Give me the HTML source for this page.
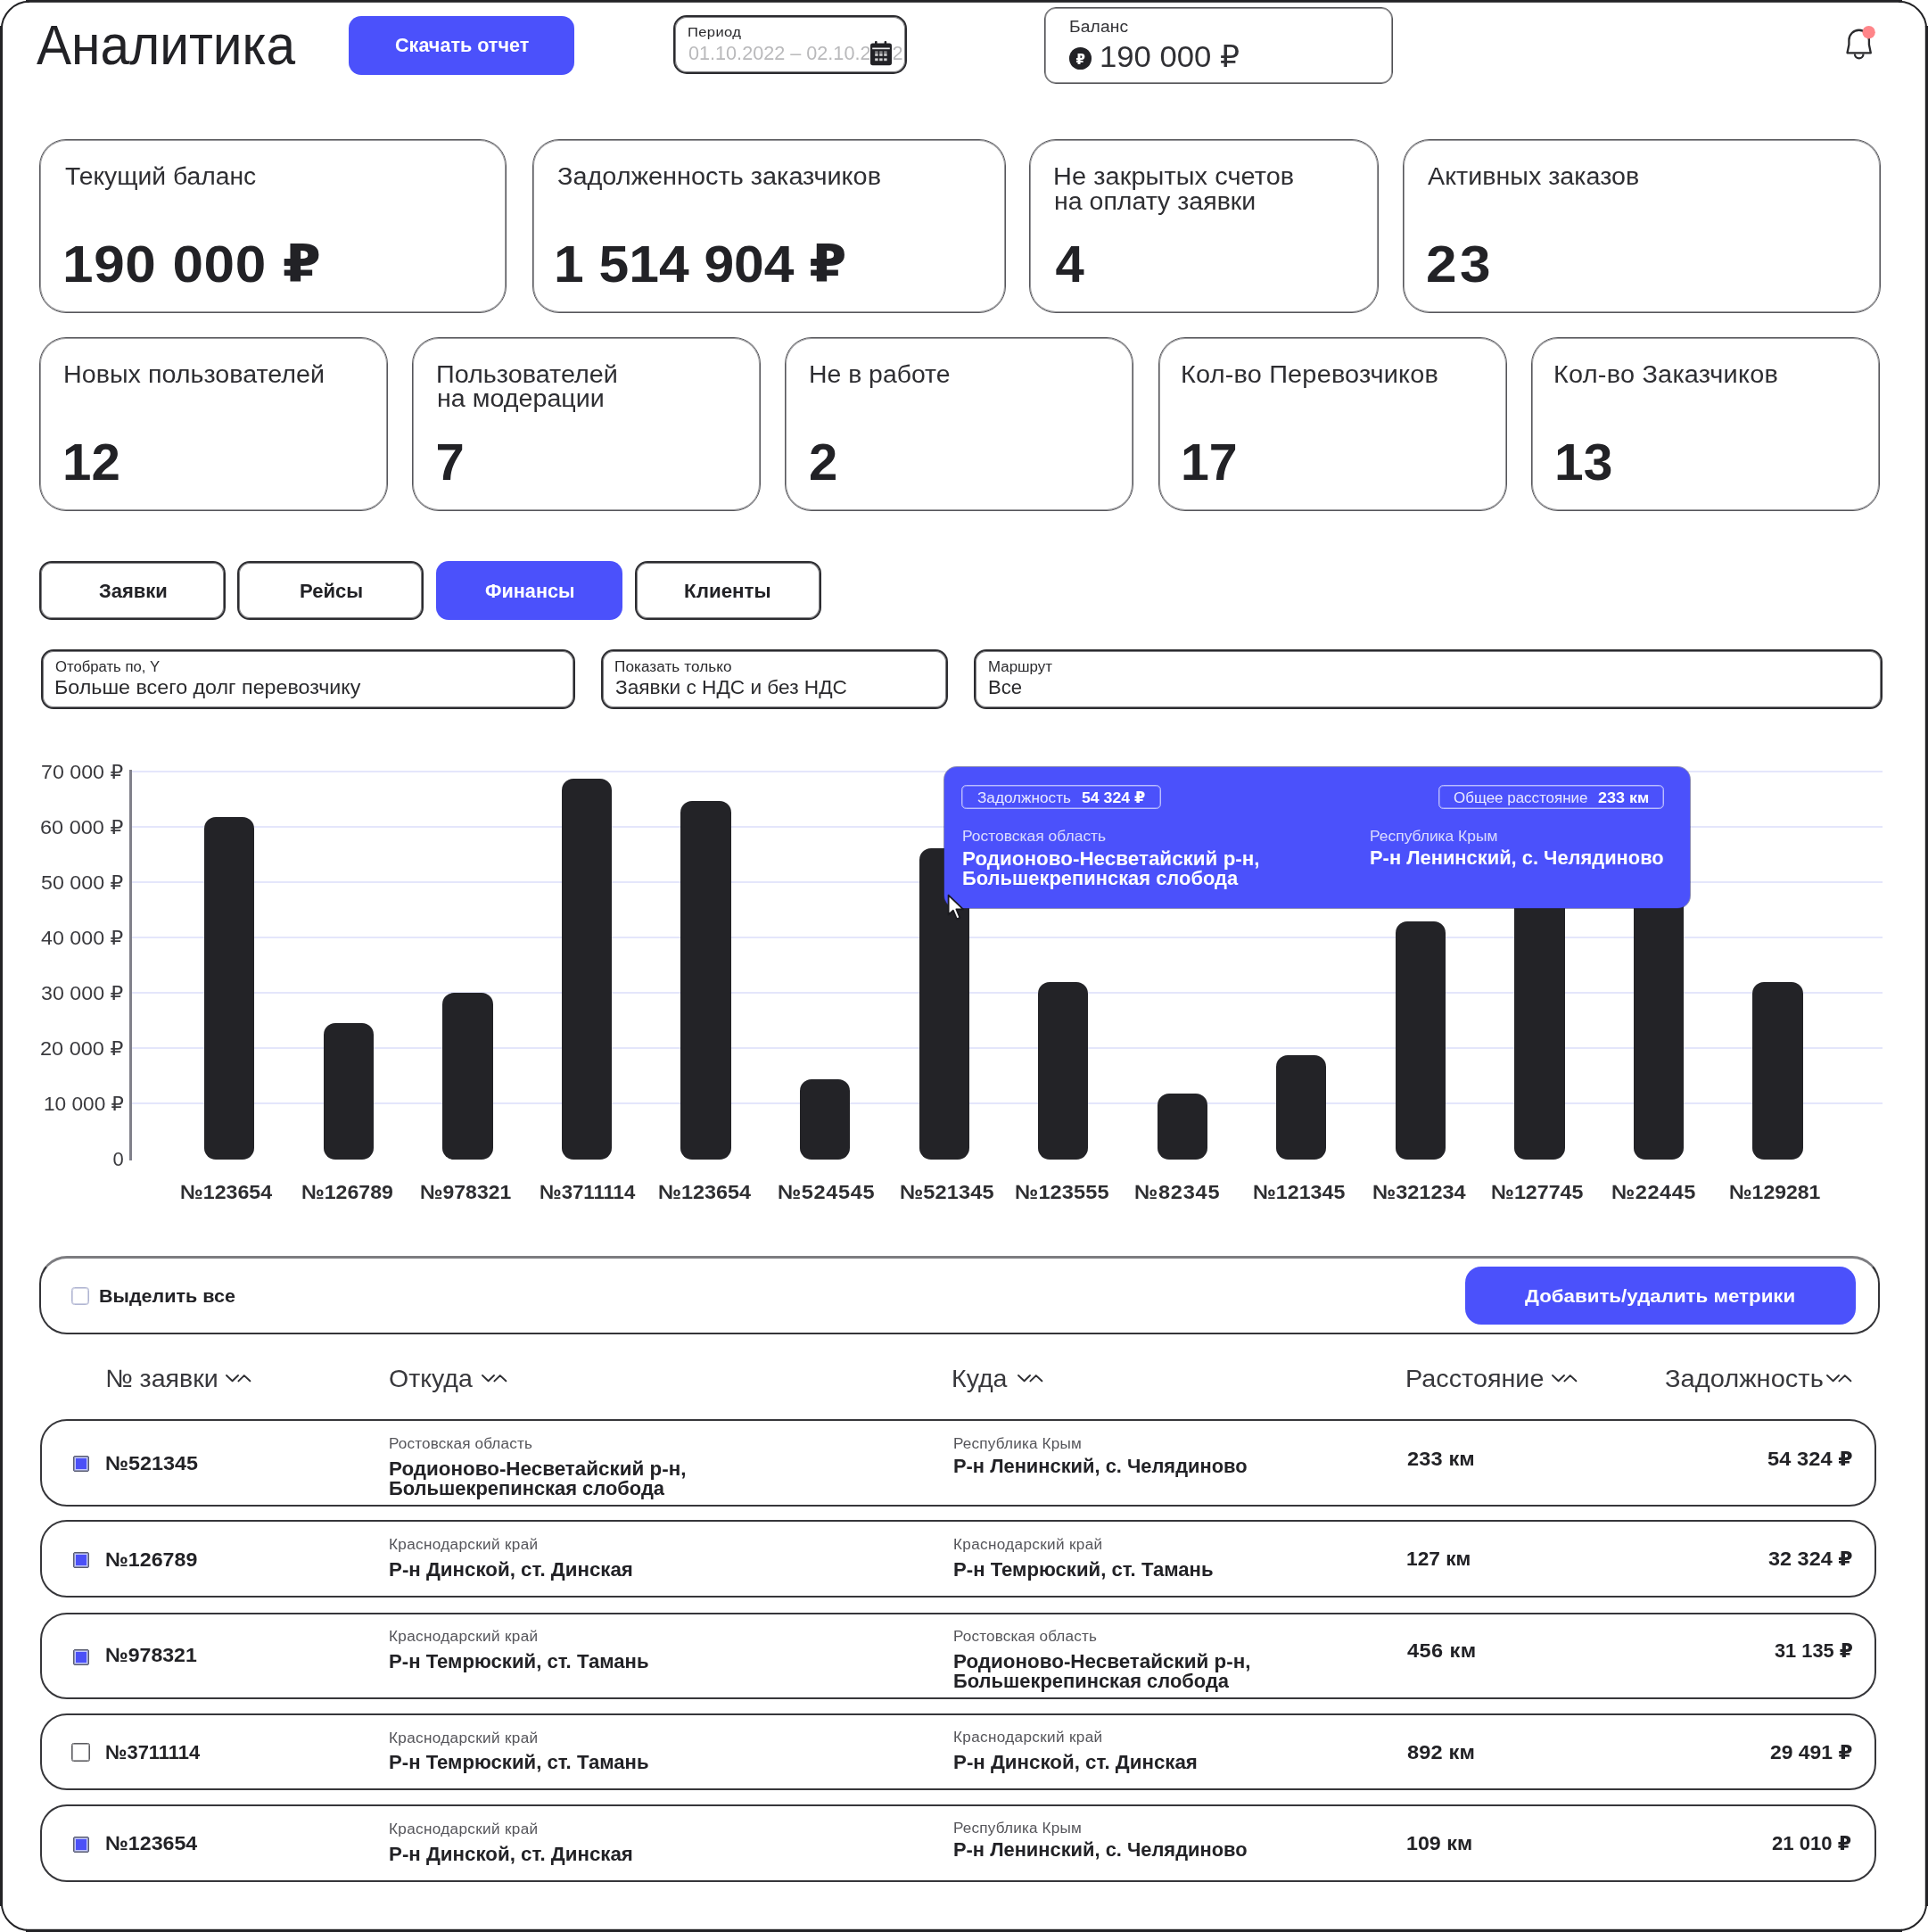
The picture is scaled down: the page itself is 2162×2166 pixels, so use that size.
<!DOCTYPE html><html lang="ru"><head><meta charset="utf-8"><title>Аналитика</title><style>
html,body{margin:0;padding:0;background:#fff}body{width:2162px;height:2166px;position:relative;overflow:hidden;font-family:"Liberation Sans","DejaVu Sans",sans-serif;color:#222226}
#app{position:absolute;left:0;top:0;width:100%;height:100%;will-change:transform}#app div{position:absolute;box-sizing:border-box}#app .t{white-space:nowrap;overflow:visible;transform-origin:0 0}#app svg{position:absolute;overflow:visible}
</style></head><body><div id="app">
<section class="frame">
<svg style="left:0;top:0" width="2162" height="2166" viewBox="0 0 2162 2166">
<g fill="#232326"><rect x="29" y="0" width="2104" height="2.8"/><rect x="29" y="2162.8" width="2104" height="3.2"/>
<rect x="0" y="29" width="3" height="2108"/><rect x="2158.8" y="29" width="3.2" height="2108"/></g>
<g fill="none" stroke="#232326" stroke-width="2">
<path d="M1.8 33 A31.2 31.2 0 0 1 33 1.8"/><path d="M2129 1.8 A31.2 31.2 0 0 1 2160.2 33"/>
<path d="M2160.2 2133 A31.2 31.2 0 0 1 2129 2164.2"/><path d="M33 2164.2 A31.2 31.2 0 0 1 1.8 2133"/></g></svg>
</section>
<header class="topbar">
<div class="t" style="left:41.00px;top:19px;height:63px;line-height:63px;font-size:63px;transform:scaleX(0.9303);">Аналитика</div>
<div style="left:391.3px;top:18.0px;width:252.9px;height:65.5px;background:#4b51fb;border-radius:14px"></div>
<div class="t" style="left:442.70px;top:41px;height:21.5px;line-height:21.5px;font-size:21.5px;font-weight:700;color:#fff;transform:scaleX(1.0037);">Скачать отчет</div>
<div class="t" style="left:770.73px;top:28px;height:15.5px;line-height:15.5px;font-size:15.5px;color:#2a2a2d;letter-spacing:0.327px;transform:scaleX(1.0700);">Период</div>
<div class="t" style="left:771.80px;top:49px;height:22px;line-height:22px;font-size:22px;color:#b9b9bb;transform:scaleX(0.9831);">01.10.2022 – 02.10.2022</div>
<div style="left:974.5px;top:44.0px;width:27.0px;height:31.0px;background:#fff"></div>
<svg style="left:976px;top:45.5px" width="24" height="27.5" viewBox="0 0 24 27.5">
<rect x="5" y="0" width="2.6" height="6" rx="1" fill="#222226"/><rect x="15.6" y="0" width="2.6" height="6" rx="1" fill="#222226"/>
<rect x="0" y="2.6" width="24" height="24.6" rx="2.6" fill="#222226"/>
<rect x="2.2" y="7.5" width="19.6" height="1.7" fill="#fff" opacity=".92"/>
<g fill="#fff" opacity=".45"><rect x="5.2" y="11.3" width="3.4" height="2.6"/><rect x="10.2" y="11.3" width="3.4" height="2.6"/><rect x="15.2" y="11.3" width="3.4" height="2.6"/></g>
<g fill="#fff" opacity=".8"><rect x="5.2" y="14.2" width="3.4" height="2.6"/><rect x="10.2" y="14.2" width="3.4" height="2.6"/><rect x="15.2" y="14.2" width="3.4" height="2.6"/>
<rect x="5.2" y="19.4" width="3.4" height="2.8"/><rect x="10.2" y="19.4" width="3.4" height="2.8"/><rect x="15.2" y="19.4" width="3.4" height="2.8"/></g>
</svg>
<div style="left:755.0px;top:17.0px;width:262.0px;height:66.4px;border:2px solid #2a2a2e;border-radius:15px;box-shadow:inset 0 0 0 1px rgba(42,42,46,0.60);"></div>
<div style="left:1171.3px;top:8.3px;width:390.7px;height:85.5px;border:1px solid #4e4e52;border-radius:13px;box-shadow:inset 0 0 0 1px rgba(78,78,82,0.60);"></div>
<div class="t" style="left:1198.83px;top:21px;height:18px;line-height:18px;font-size:18px;color:#333337;letter-spacing:0.113px;transform:scaleX(1.0700);">Баланс</div>
<div style="left:1199.2px;top:53.4px;width:24.6px;height:24.6px;background:#222226;border-radius:50%"></div>
<div class="t" style="left:1206.50px;top:59px;height:15px;line-height:15px;font-size:15px;font-weight:700;color:#fff;">₽</div>
<div class="t" style="left:1233.13px;top:47px;height:33.5px;line-height:33.5px;font-size:33.5px;color:#303034;transform:scaleX(1.0348);">190 000 ₽</div>
<svg style="left:0;top:0" width="2162" height="100" viewBox="0 0 2162 100">
<path d="M2071.5 59.3 L2073.4 50 L2073.4 45 A11.25 11.25 0 0 1 2095.9 45 L2095.9 50 L2097.8 59.3 Z" fill="none" stroke="#2a2a2d" stroke-width="2.3" stroke-linejoin="round"/>
<path d="M2079.9 60.6 A4.8 4.8 0 0 0 2089.5 60.6" fill="none" stroke="#2a2a2d" stroke-width="2.2"/>
<circle cx="2095.6" cy="36.2" r="7.2" fill="#ff8589"/>
</svg>
</header>
<section class="stats">
<div style="left:44.4px;top:155.9px;width:523.9px;height:195.1px;border:1px solid #55555a;border-radius:30px;box-shadow:inset 0 0 0 1px rgba(85,85,90,0.60);"></div>
<div class="t" style="left:72.80px;top:185px;height:27px;line-height:27px;font-size:27px;color:#2e2e32;transform:scaleX(1.0474);">Текущий баланс</div>
<div class="t" style="left:70.19px;top:267px;height:58px;line-height:58px;font-size:58px;font-weight:700;letter-spacing:0.616px;transform:scaleX(1.0700);">190 000 ₽</div>
<div style="left:596.5px;top:155.9px;width:531.4px;height:195.1px;border:1px solid #55555a;border-radius:30px;box-shadow:inset 0 0 0 1px rgba(85,85,90,0.60);"></div>
<div class="t" style="left:624.90px;top:185px;height:27px;line-height:27px;font-size:27px;color:#2e2e32;transform:scaleX(1.0700);">Задолженность заказчиков</div>
<div class="t" style="left:621.07px;top:267px;height:58px;line-height:58px;font-size:58px;font-weight:700;transform:scaleX(1.0445);">1 514 904 ₽</div>
<div style="left:1154.3px;top:155.9px;width:391.7px;height:195.1px;border:1px solid #55555a;border-radius:30px;box-shadow:inset 0 0 0 1px rgba(85,85,90,0.60);"></div>
<div class="t" style="left:1180.56px;top:185px;height:27px;line-height:27px;font-size:27px;color:#2e2e32;letter-spacing:0.077px;transform:scaleX(1.0700);">Не закрытых счетов</div>
<div class="t" style="left:1181.64px;top:213px;height:27px;line-height:27px;font-size:27px;color:#2e2e32;transform:scaleX(1.0562);">на оплату заявки</div>
<div class="t" style="left:1183.60px;top:267px;height:58px;line-height:58px;font-size:58px;font-weight:700;">4</div>
<div style="left:1572.5px;top:155.9px;width:536.0px;height:195.1px;border:1px solid #55555a;border-radius:30px;box-shadow:inset 0 0 0 1px rgba(85,85,90,0.60);"></div>
<div class="t" style="left:1600.90px;top:185px;height:27px;line-height:27px;font-size:27px;color:#2e2e32;transform:scaleX(1.0626);">Активных заказов</div>
<div class="t" style="left:1598.66px;top:267px;height:58px;line-height:58px;font-size:58px;font-weight:700;letter-spacing:3.229px;transform:scaleX(1.0700);">23</div>
<div style="left:44.4px;top:377.7px;width:390.6px;height:194.9px;border:1px solid #55555a;border-radius:30px;box-shadow:inset 0 0 0 1px rgba(85,85,90,0.60);"></div>
<div class="t" style="left:70.67px;top:407px;height:27px;line-height:27px;font-size:27px;color:#2e2e32;transform:scaleX(1.0629);">Новых пользователей</div>
<div class="t" style="left:70.19px;top:489px;height:58px;line-height:58px;font-size:58px;font-weight:700;transform:scaleX(1.0041);">12</div>
<div style="left:462.4px;top:377.7px;width:390.9px;height:194.9px;border:1px solid #55555a;border-radius:30px;box-shadow:inset 0 0 0 1px rgba(85,85,90,0.60);"></div>
<div class="t" style="left:488.67px;top:407px;height:27px;line-height:27px;font-size:27px;color:#2e2e32;transform:scaleX(1.0661);">Пользователей</div>
<div class="t" style="left:489.74px;top:434px;height:27px;line-height:27px;font-size:27px;color:#2e2e32;transform:scaleX(1.0620);">на модерации</div>
<div class="t" style="left:488.60px;top:489px;height:58px;line-height:58px;font-size:58px;font-weight:700;">7</div>
<div style="left:880.3px;top:377.7px;width:390.7px;height:194.9px;border:1px solid #55555a;border-radius:30px;box-shadow:inset 0 0 0 1px rgba(85,85,90,0.60);"></div>
<div class="t" style="left:906.60px;top:407px;height:27px;line-height:27px;font-size:27px;color:#2e2e32;transform:scaleX(1.0511);">Не в работе</div>
<div class="t" style="left:907.10px;top:489px;height:58px;line-height:58px;font-size:58px;font-weight:700;">2</div>
<div style="left:1299.0px;top:377.7px;width:391.2px;height:194.9px;border:1px solid #55555a;border-radius:30px;box-shadow:inset 0 0 0 1px rgba(85,85,90,0.60);"></div>
<div class="t" style="left:1324.36px;top:407px;height:27px;line-height:27px;font-size:27px;color:#2e2e32;letter-spacing:0.175px;transform:scaleX(1.0700);">Кол-во Перевозчиков</div>
<div class="t" style="left:1323.64px;top:489px;height:58px;line-height:58px;font-size:58px;font-weight:700;transform:scaleX(0.9872);">17</div>
<div style="left:1716.7px;top:377.7px;width:391.8px;height:194.9px;border:1px solid #55555a;border-radius:30px;box-shadow:inset 0 0 0 1px rgba(85,85,90,0.60);"></div>
<div class="t" style="left:1742.06px;top:407px;height:27px;line-height:27px;font-size:27px;color:#2e2e32;letter-spacing:0.208px;transform:scaleX(1.0700);">Кол-во Заказчиков</div>
<div class="t" style="left:1742.86px;top:489px;height:58px;line-height:58px;font-size:58px;font-weight:700;transform:scaleX(1.0123);">13</div>
</section>
<nav class="tabs">
<div style="left:44.1px;top:628.7px;width:208.8px;height:66.5px;border:2px solid #2c2c30;border-radius:14px;box-shadow:inset 0 0 0 1px rgba(44,44,48,0.60);"></div>
<div class="t" style="left:110.50px;top:652px;height:22.5px;line-height:22.5px;font-size:22.5px;font-weight:700;transform:scaleX(0.9765);">Заявки</div>
<div style="left:266.3px;top:628.7px;width:208.9px;height:66.5px;border:2px solid #2c2c30;border-radius:14px;box-shadow:inset 0 0 0 1px rgba(44,44,48,0.60);"></div>
<div class="t" style="left:336.02px;top:652px;height:22.5px;line-height:22.5px;font-size:22.5px;font-weight:700;transform:scaleX(0.9814);">Рейсы</div>
<div style="left:489.0px;top:628.7px;width:209.4px;height:66.5px;background:#4b51fb;border-radius:14px"></div>
<div class="t" style="left:544.10px;top:652px;height:22.5px;line-height:22.5px;font-size:22.5px;font-weight:700;color:#fff;transform:scaleX(0.9618);">Финансы</div>
<div style="left:711.9px;top:628.7px;width:208.9px;height:66.5px;border:2px solid #2c2c30;border-radius:14px;box-shadow:inset 0 0 0 1px rgba(44,44,48,0.60);"></div>
<div class="t" style="left:767.11px;top:652px;height:22.5px;line-height:22.5px;font-size:22.5px;font-weight:700;transform:scaleX(0.9950);">Клиенты</div>
</nav>
<section class="filters">
<div style="left:46.2px;top:728.4px;width:599.0px;height:66.2px;border:2px solid #2c2c30;border-radius:14px;box-shadow:inset 0 0 0 1px rgba(44,44,48,0.60);"></div>
<div class="t" style="left:62.40px;top:740px;height:16px;line-height:16px;font-size:16px;color:#2a2a2d;transform:scaleX(1.0429);">Отобрать по, Y</div>
<div class="t" style="left:61.34px;top:760px;height:22px;line-height:22px;font-size:22px;color:#2a2a2d;transform:scaleX(1.0577);">Больше всего долг перевозчику</div>
<div style="left:673.5px;top:728.4px;width:389.9px;height:66.2px;border:2px solid #2c2c30;border-radius:14px;box-shadow:inset 0 0 0 1px rgba(44,44,48,0.60);"></div>
<div class="t" style="left:688.73px;top:740px;height:16px;line-height:16px;font-size:16px;color:#2a2a2d;letter-spacing:0.068px;transform:scaleX(1.0700);">Показать только</div>
<div class="t" style="left:689.80px;top:760px;height:22px;line-height:22px;font-size:22px;color:#2a2a2d;transform:scaleX(1.0295);">Заявки с НДС и без НДС</div>
<div style="left:1092.3px;top:728.4px;width:1018.5px;height:66.2px;border:2px solid #2c2c30;border-radius:14px;box-shadow:inset 0 0 0 1px rgba(44,44,48,0.60);"></div>
<div class="t" style="left:1108.44px;top:740px;height:16px;line-height:16px;font-size:16px;color:#2a2a2d;transform:scaleX(1.0551);">Маршрут</div>
<div class="t" style="left:1108.49px;top:760px;height:22px;line-height:22px;font-size:22px;color:#2a2a2d;transform:scaleX(1.0062);">Все</div>
</section>
<section class="chart">
<div style="left:148.0px;top:863.6px;width:1962.5px;height:2.2px;background:#e4e6fb"></div>
<div style="left:148.0px;top:925.6px;width:1962.5px;height:2.2px;background:#e4e6fb"></div>
<div style="left:148.0px;top:987.6px;width:1962.5px;height:2.2px;background:#e4e6fb"></div>
<div style="left:148.0px;top:1049.6px;width:1962.5px;height:2.2px;background:#e4e6fb"></div>
<div style="left:148.0px;top:1111.6px;width:1962.5px;height:2.2px;background:#e4e6fb"></div>
<div style="left:148.0px;top:1173.6px;width:1962.5px;height:2.2px;background:#e4e6fb"></div>
<div style="left:148.0px;top:1235.6px;width:1962.5px;height:2.2px;background:#e4e6fb"></div>
<div style="left:145.4px;top:863.0px;width:3.0px;height:438.0px;background:#80808a"></div>
<div class="t" style="left:46.04px;top:855px;height:22px;line-height:22px;font-size:22px;color:#3a3a3e;transform:scaleX(1.0555);">70 000 ₽</div>
<div class="t" style="left:44.93px;top:917px;height:22px;line-height:22px;font-size:22px;color:#3a3a3e;transform:scaleX(1.0683);">60 000 ₽</div>
<div class="t" style="left:46.00px;top:979px;height:22px;line-height:22px;font-size:22px;color:#3a3a3e;transform:scaleX(1.0560);">50 000 ₽</div>
<div class="t" style="left:46.00px;top:1041px;height:22px;line-height:22px;font-size:22px;color:#3a3a3e;transform:scaleX(1.0560);">40 000 ₽</div>
<div class="t" style="left:46.00px;top:1103px;height:22px;line-height:22px;font-size:22px;color:#3a3a3e;transform:scaleX(1.0560);">30 000 ₽</div>
<div class="t" style="left:44.93px;top:1165px;height:22px;line-height:22px;font-size:22px;color:#3a3a3e;transform:scaleX(1.0683);">20 000 ₽</div>
<div class="t" style="left:49.27px;top:1227px;height:22px;line-height:22px;font-size:22px;color:#3a3a3e;transform:scaleX(1.0301);">10 000 ₽</div>
<div class="t" style="left:126.40px;top:1289px;height:22px;line-height:22px;font-size:22px;color:#3a3a3e;">0</div>
<div style="left:229.1px;top:915.8px;width:56.4px;height:384.2px;background:#232327;border-radius:13px"></div>
<div style="left:362.7px;top:1147.3px;width:56.4px;height:152.7px;background:#232327;border-radius:13px"></div>
<div style="left:496.2px;top:1112.5px;width:56.4px;height:187.5px;background:#232327;border-radius:13px"></div>
<div style="left:629.8px;top:872.5px;width:56.4px;height:427.5px;background:#232327;border-radius:13px"></div>
<div style="left:763.3px;top:897.8px;width:56.4px;height:402.2px;background:#232327;border-radius:13px"></div>
<div style="left:896.9px;top:1209.5px;width:56.4px;height:90.5px;background:#232327;border-radius:13px"></div>
<div style="left:1030.5px;top:951.1px;width:56.4px;height:348.9px;background:#232327;border-radius:13px"></div>
<div style="left:1164.0px;top:1101.3px;width:56.4px;height:198.7px;background:#232327;border-radius:13px"></div>
<div style="left:1297.6px;top:1225.8px;width:56.4px;height:74.2px;background:#232327;border-radius:13px"></div>
<div style="left:1431.1px;top:1182.6px;width:56.4px;height:117.4px;background:#232327;border-radius:13px"></div>
<div style="left:1564.7px;top:1032.5px;width:56.4px;height:267.5px;background:#232327;border-radius:13px"></div>
<div style="left:1698.3px;top:980.0px;width:56.4px;height:320.0px;background:#232327;border-radius:13px"></div>
<div style="left:1831.8px;top:930.0px;width:56.4px;height:370.0px;background:#232327;border-radius:13px"></div>
<div style="left:1965.4px;top:1101.3px;width:56.4px;height:198.7px;background:#232327;border-radius:13px"></div>
<div class="t" style="left:201.85px;top:1326px;height:22px;line-height:22px;font-size:22px;font-weight:700;color:#2e2e31;transform:scaleX(1.0522);">№123654</div>
<div class="t" style="left:338.25px;top:1326px;height:22px;line-height:22px;font-size:22px;font-weight:700;color:#2e2e31;transform:scaleX(1.0507);">№126789</div>
<div class="t" style="left:471.46px;top:1326px;height:22px;line-height:22px;font-size:22px;font-weight:700;color:#2e2e31;transform:scaleX(1.0434);">№978321</div>
<div class="t" style="left:605.19px;top:1326px;height:22px;line-height:22px;font-size:22px;font-weight:700;color:#2e2e31;transform:scaleX(1.0066);">№3711114</div>
<div class="t" style="left:738.44px;top:1326px;height:22px;line-height:22px;font-size:22px;font-weight:700;color:#2e2e31;transform:scaleX(1.0624);">№123654</div>
<div class="t" style="left:871.73px;top:1326px;height:22px;line-height:22px;font-size:22px;font-weight:700;color:#2e2e31;letter-spacing:0.581px;transform:scaleX(1.0700);">№524545</div>
<div class="t" style="left:1009.33px;top:1326px;height:22px;line-height:22px;font-size:22px;font-weight:700;color:#2e2e31;letter-spacing:0.114px;transform:scaleX(1.0700);">№521345</div>
<div class="t" style="left:1138.23px;top:1326px;height:22px;line-height:22px;font-size:22px;font-weight:700;color:#2e2e31;letter-spacing:0.129px;transform:scaleX(1.0700);">№123555</div>
<div class="t" style="left:1271.73px;top:1326px;height:22px;line-height:22px;font-size:22px;font-weight:700;color:#2e2e31;letter-spacing:0.714px;transform:scaleX(1.0700);">№82345</div>
<div class="t" style="left:1405.15px;top:1326px;height:22px;line-height:22px;font-size:22px;font-weight:700;color:#2e2e31;transform:scaleX(1.0548);">№121345</div>
<div class="t" style="left:1538.53px;top:1326px;height:22px;line-height:22px;font-size:22px;font-weight:700;color:#2e2e31;transform:scaleX(1.0686);">№321234</div>
<div class="t" style="left:1671.94px;top:1326px;height:22px;line-height:22px;font-size:22px;font-weight:700;color:#2e2e31;transform:scaleX(1.0558);">№127745</div>
<div class="t" style="left:1806.53px;top:1326px;height:22px;line-height:22px;font-size:22px;font-weight:700;color:#2e2e31;letter-spacing:0.509px;transform:scaleX(1.0700);">№22445</div>
<div class="t" style="left:1938.96px;top:1326px;height:22px;line-height:22px;font-size:22px;font-weight:700;color:#2e2e31;transform:scaleX(1.0445);">№129281</div>
</section>
<aside class="tooltip">
<div style="left:1058.6px;top:860.2px;width:836.8px;height:158.0px;background:#4b51fb;border-radius:14px;box-shadow:0 0 0 1px rgba(45,48,120,.55)"></div>
<div style="left:1078.3px;top:880.3px;width:224.1px;height:27.1px;border:1px solid rgba(255,255,255,.62);border-radius:5.5px;box-shadow:inset 0 0 0 1px rgba(255,255,255,.28)"></div>
<div style="left:1613.3px;top:880.3px;width:252.3px;height:27.1px;border:1px solid rgba(255,255,255,.62);border-radius:5.5px;box-shadow:inset 0 0 0 1px rgba(255,255,255,.28)"></div>
<div class="t" style="left:1096.20px;top:886px;height:17px;line-height:17px;font-size:17px;color:rgba(255,255,255,.88);transform:scaleX(1.0092);">Задолжность</div>
<div class="t" style="left:1212.90px;top:886px;height:17px;line-height:17px;font-size:17px;font-weight:700;color:#fff;transform:scaleX(1.0419);">54 324 ₽</div>
<div class="t" style="left:1630.00px;top:886px;height:17px;line-height:17px;font-size:17px;color:rgba(255,255,255,.88);transform:scaleX(0.9971);">Общее расстояние</div>
<div class="t" style="left:1791.50px;top:886px;height:17px;line-height:17px;font-size:17px;font-weight:700;color:#fff;transform:scaleX(1.0561);">233 км</div>
<div class="t" style="left:1078.54px;top:929px;height:16.5px;line-height:16.5px;font-size:16.5px;color:rgba(255,255,255,.8);transform:scaleX(1.0573);">Ростовская область</div>
<div class="t" style="left:1078.58px;top:952px;height:22px;line-height:22px;font-size:22px;font-weight:700;color:#fff;transform:scaleX(1.0192);">Родионово-Несветайский р-н,</div>
<div class="t" style="left:1078.60px;top:974px;height:22px;line-height:22px;font-size:22px;font-weight:700;color:#fff;transform:scaleX(0.9963);">Большекрепинская слобода</div>
<div class="t" style="left:1535.55px;top:929px;height:16.5px;line-height:16.5px;font-size:16.5px;color:rgba(255,255,255,.8);transform:scaleX(1.0548);">Республика Крым</div>
<div class="t" style="left:1535.61px;top:951px;height:22px;line-height:22px;font-size:22px;font-weight:700;color:#fff;transform:scaleX(0.9945);">Р-н Ленинский, с. Челядиново</div>
<svg style="left:1062px;top:1002px" width="20" height="30" viewBox="0 0 20 30">
<path d="M1.6 1.6 L1.6 23.4 L6.9 18.8 L10.9 28.4 L14.4 26.9 L10.4 17.4 L18 17.4 Z" fill="#fff" stroke="#1b1b1f" stroke-width="1.8" stroke-linejoin="round"/></svg>
</aside>
<section class="table-actions">
<div style="left:44.3px;top:1408.4px;width:2064.1px;height:87.7px;border:2px solid #343438;border-top:3px solid #7c7c80;border-radius:31px"></div>
<div style="left:80.1px;top:1443.2px;width:20.2px;height:20.0px;border:1px solid #b0b5d2;border-radius:3.5px;box-shadow:inset 0 0 0 1px rgba(176,181,210,0.60);background:#fff"></div>
<div class="t" style="left:111.17px;top:1442px;height:21px;line-height:21px;font-size:21px;font-weight:700;transform:scaleX(1.0254);">Выделить все</div>
<div style="left:1642.6px;top:1420.2px;width:438.7px;height:65.3px;background:#4b51fb;border-radius:18px"></div>
<div class="t" style="left:1710.00px;top:1442px;height:21px;line-height:21px;font-size:21px;font-weight:700;color:#fff;transform:scaleX(1.0627);">Добавить/удалить метрики</div>
</section>
<section class="table-head">
<div class="t" style="left:118.16px;top:1532px;height:28px;line-height:28px;font-size:28px;color:#38383c;transform:scaleX(1.0206);">№ заявки</div>
<svg style="left:253px;top:1540.8px" width="30" height="8" viewBox="0 0 30 8"><path d="M1 1 L7.6 7.2 L14 1 M14.4 7.4 L20.8 1.1 L27.4 7.3" fill="none" stroke="#2e2e32" stroke-width="1.9" stroke-linecap="round" stroke-linejoin="round"/></svg>
<div class="t" style="left:436.48px;top:1532px;height:28px;line-height:28px;font-size:28px;color:#38383c;transform:scaleX(1.0177);">Откуда</div>
<svg style="left:540px;top:1540.8px" width="30" height="8" viewBox="0 0 30 8"><path d="M1 1 L7.6 7.2 L14 1 M14.4 7.4 L20.8 1.1 L27.4 7.3" fill="none" stroke="#2e2e32" stroke-width="1.9" stroke-linecap="round" stroke-linejoin="round"/></svg>
<div class="t" style="left:1067.36px;top:1532px;height:28px;line-height:28px;font-size:28px;color:#38383c;transform:scaleX(1.0198);">Куда</div>
<svg style="left:1141px;top:1540.8px" width="30" height="8" viewBox="0 0 30 8"><path d="M1 1 L7.6 7.2 L14 1 M14.4 7.4 L20.8 1.1 L27.4 7.3" fill="none" stroke="#2e2e32" stroke-width="1.9" stroke-linecap="round" stroke-linejoin="round"/></svg>
<div class="t" style="left:1575.94px;top:1532px;height:28px;line-height:28px;font-size:28px;color:#38383c;transform:scaleX(1.0278);">Расстояние</div>
<svg style="left:1740px;top:1540.8px" width="30" height="8" viewBox="0 0 30 8"><path d="M1 1 L7.6 7.2 L14 1 M14.4 7.4 L20.8 1.1 L27.4 7.3" fill="none" stroke="#2e2e32" stroke-width="1.9" stroke-linecap="round" stroke-linejoin="round"/></svg>
<div class="t" style="left:1867.30px;top:1532px;height:28px;line-height:28px;font-size:28px;color:#38383c;transform:scaleX(1.0380);">Задолжность</div>
<svg style="left:2048px;top:1540.8px" width="30" height="8" viewBox="0 0 30 8"><path d="M1 1 L7.6 7.2 L14 1 M14.4 7.4 L20.8 1.1 L27.4 7.3" fill="none" stroke="#2e2e32" stroke-width="1.9" stroke-linecap="round" stroke-linejoin="round"/></svg>
</section>
<section class="table-rows">
<div style="left:44.8px;top:1591.3px;width:2059.2px;height:97.3px;border:2px solid #36363a;border-radius:30px;"></div>
<div style="left:81.6px;top:1631.5px;width:18.6px;height:18.0px;border:1px solid #5a5d70;border-radius:2px;background:#4b50f7;box-shadow:inset 0 0 0 1px rgba(120,124,150,.7),inset 0 0 0 2px #c4c8ff"></div>
<div class="t" style="left:118.04px;top:1630px;height:22px;line-height:22px;font-size:22px;font-weight:700;transform:scaleX(1.0620);">№521345</div>
<div class="t" style="left:436.13px;top:1611px;height:16px;line-height:16px;font-size:16px;color:#55555a;letter-spacing:0.145px;transform:scaleX(1.0700);">Ростовская область</div>
<div class="t" style="left:436.38px;top:1636px;height:22px;line-height:22px;font-size:22px;font-weight:700;transform:scaleX(1.0189);">Родионово-Несветайский р-н,</div>
<div class="t" style="left:436.40px;top:1658px;height:22px;line-height:22px;font-size:22px;font-weight:700;transform:scaleX(0.9960);">Большекрепинская слобода</div>
<div class="t" style="left:1068.73px;top:1611px;height:16px;line-height:16px;font-size:16px;color:#55555a;letter-spacing:0.178px;transform:scaleX(1.0700);">Республика Крым</div>
<div class="t" style="left:1068.81px;top:1633px;height:22px;line-height:22px;font-size:22px;font-weight:700;transform:scaleX(0.9939);">Р-н Ленинский, с. Челядиново</div>
<div class="t" style="left:1578.00px;top:1625px;height:22px;line-height:22px;font-size:22px;font-weight:700;letter-spacing:0.141px;transform:scaleX(1.0700);">233 км</div>
<div class="t" style="left:1981.70px;top:1625px;height:22px;line-height:22px;font-size:22px;font-weight:700;letter-spacing:0.095px;transform:scaleX(1.0700);">54 324 ₽</div>
<div style="left:44.8px;top:1704.2px;width:2059.2px;height:86.4px;border:2px solid #36363a;border-radius:30px;"></div>
<div style="left:81.6px;top:1740.0px;width:18.6px;height:18.0px;border:1px solid #5a5d70;border-radius:2px;background:#4b50f7;box-shadow:inset 0 0 0 1px rgba(120,124,150,.7),inset 0 0 0 2px #c4c8ff"></div>
<div class="t" style="left:118.05px;top:1738px;height:22px;line-height:22px;font-size:22px;font-weight:700;transform:scaleX(1.0548);">№126789</div>
<div class="t" style="left:436.13px;top:1724px;height:16px;line-height:16px;font-size:16px;color:#55555a;letter-spacing:0.321px;transform:scaleX(1.0700);">Краснодарский край</div>
<div class="t" style="left:436.39px;top:1749px;height:22px;line-height:22px;font-size:22px;font-weight:700;transform:scaleX(1.0138);">Р-н Динской, ст. Динская</div>
<div class="t" style="left:1068.73px;top:1724px;height:16px;line-height:16px;font-size:16px;color:#55555a;letter-spacing:0.321px;transform:scaleX(1.0700);">Краснодарский край</div>
<div class="t" style="left:1068.79px;top:1749px;height:22px;line-height:22px;font-size:22px;font-weight:700;transform:scaleX(1.0057);">Р-н Темрюский, ст. Тамань</div>
<div class="t" style="left:1576.97px;top:1737px;height:22px;line-height:22px;font-size:22px;font-weight:700;transform:scaleX(1.0320);">127 км</div>
<div class="t" style="left:1982.80px;top:1737px;height:22px;line-height:22px;font-size:22px;font-weight:700;transform:scaleX(1.0656);">32 324 ₽</div>
<div style="left:44.8px;top:1807.6px;width:2059.2px;height:97.6px;border:2px solid #36363a;border-radius:30px;"></div>
<div style="left:81.6px;top:1848.5px;width:18.6px;height:18.0px;border:1px solid #5a5d70;border-radius:2px;background:#4b50f7;box-shadow:inset 0 0 0 1px rgba(120,124,150,.7),inset 0 0 0 2px #c4c8ff"></div>
<div class="t" style="left:118.05px;top:1845px;height:22px;line-height:22px;font-size:22px;font-weight:700;transform:scaleX(1.0496);">№978321</div>
<div class="t" style="left:436.13px;top:1827px;height:16px;line-height:16px;font-size:16px;color:#55555a;letter-spacing:0.321px;transform:scaleX(1.0700);">Краснодарский край</div>
<div class="t" style="left:436.39px;top:1852px;height:22px;line-height:22px;font-size:22px;font-weight:700;transform:scaleX(1.0057);">Р-н Темрюский, ст. Тамань</div>
<div class="t" style="left:1068.73px;top:1827px;height:16px;line-height:16px;font-size:16px;color:#55555a;letter-spacing:0.145px;transform:scaleX(1.0700);">Ростовская область</div>
<div class="t" style="left:1068.78px;top:1852px;height:22px;line-height:22px;font-size:22px;font-weight:700;transform:scaleX(1.0189);">Родионово-Несветайский р-н,</div>
<div class="t" style="left:1068.80px;top:1874px;height:22px;line-height:22px;font-size:22px;font-weight:700;transform:scaleX(0.9960);">Большекрепинская слобода</div>
<div class="t" style="left:1578.00px;top:1840px;height:22px;line-height:22px;font-size:22px;font-weight:700;letter-spacing:0.384px;transform:scaleX(1.0700);">456 км</div>
<div class="t" style="left:1989.50px;top:1840px;height:22px;line-height:22px;font-size:22px;font-weight:700;transform:scaleX(0.9898);">31 135 ₽</div>
<div style="left:44.8px;top:1920.5px;width:2059.2px;height:86.4px;border:2px solid #36363a;border-radius:30px;"></div>
<div style="left:80.2px;top:1953.9px;width:20.5px;height:21.0px;border:1px solid #5c5c60;border-radius:2.5px;box-shadow:inset 0 0 0 1px rgba(92,92,96,0.60);background:#fff"></div>
<div class="t" style="left:118.10px;top:1954px;height:22px;line-height:22px;font-size:22px;font-weight:700;transform:scaleX(0.9972);">№3711114</div>
<div class="t" style="left:436.13px;top:1941px;height:16px;line-height:16px;font-size:16px;color:#55555a;letter-spacing:0.321px;transform:scaleX(1.0700);">Краснодарский край</div>
<div class="t" style="left:436.39px;top:1965px;height:22px;line-height:22px;font-size:22px;font-weight:700;transform:scaleX(1.0057);">Р-н Темрюский, ст. Тамань</div>
<div class="t" style="left:1068.73px;top:1940px;height:16px;line-height:16px;font-size:16px;color:#55555a;letter-spacing:0.321px;transform:scaleX(1.0700);">Краснодарский край</div>
<div class="t" style="left:1068.79px;top:1965px;height:22px;line-height:22px;font-size:22px;font-weight:700;transform:scaleX(1.0138);">Р-н Динской, ст. Динская</div>
<div class="t" style="left:1578.00px;top:1954px;height:22px;line-height:22px;font-size:22px;font-weight:700;letter-spacing:0.159px;transform:scaleX(1.0700);">892 км</div>
<div class="t" style="left:1984.50px;top:1954px;height:22px;line-height:22px;font-size:22px;font-weight:700;transform:scaleX(1.0407);">29 491 ₽</div>
<div style="left:44.8px;top:2023.4px;width:2059.2px;height:86.7px;border:2px solid #36363a;border-radius:30px;"></div>
<div style="left:81.6px;top:2058.5px;width:18.6px;height:18.0px;border:1px solid #5a5d70;border-radius:2px;background:#4b50f7;box-shadow:inset 0 0 0 1px rgba(120,124,150,.7),inset 0 0 0 2px #c4c8ff"></div>
<div class="t" style="left:118.05px;top:2056px;height:22px;line-height:22px;font-size:22px;font-weight:700;transform:scaleX(1.0542);">№123654</div>
<div class="t" style="left:436.13px;top:2043px;height:16px;line-height:16px;font-size:16px;color:#55555a;letter-spacing:0.321px;transform:scaleX(1.0700);">Краснодарский край</div>
<div class="t" style="left:436.39px;top:2068px;height:22px;line-height:22px;font-size:22px;font-weight:700;transform:scaleX(1.0138);">Р-н Динской, ст. Динская</div>
<div class="t" style="left:1068.73px;top:2042px;height:16px;line-height:16px;font-size:16px;color:#55555a;letter-spacing:0.178px;transform:scaleX(1.0700);">Республика Крым</div>
<div class="t" style="left:1068.81px;top:2063px;height:22px;line-height:22px;font-size:22px;font-weight:700;transform:scaleX(0.9939);">Р-н Ленинский, с. Челядиново</div>
<div class="t" style="left:1576.94px;top:2056px;height:22px;line-height:22px;font-size:22px;font-weight:700;transform:scaleX(1.0571);">109 км</div>
<div class="t" style="left:1986.70px;top:2056px;height:22px;line-height:22px;font-size:22px;font-weight:700;transform:scaleX(1.0045);">21 010 ₽</div>
</section>
</div></body></html>
